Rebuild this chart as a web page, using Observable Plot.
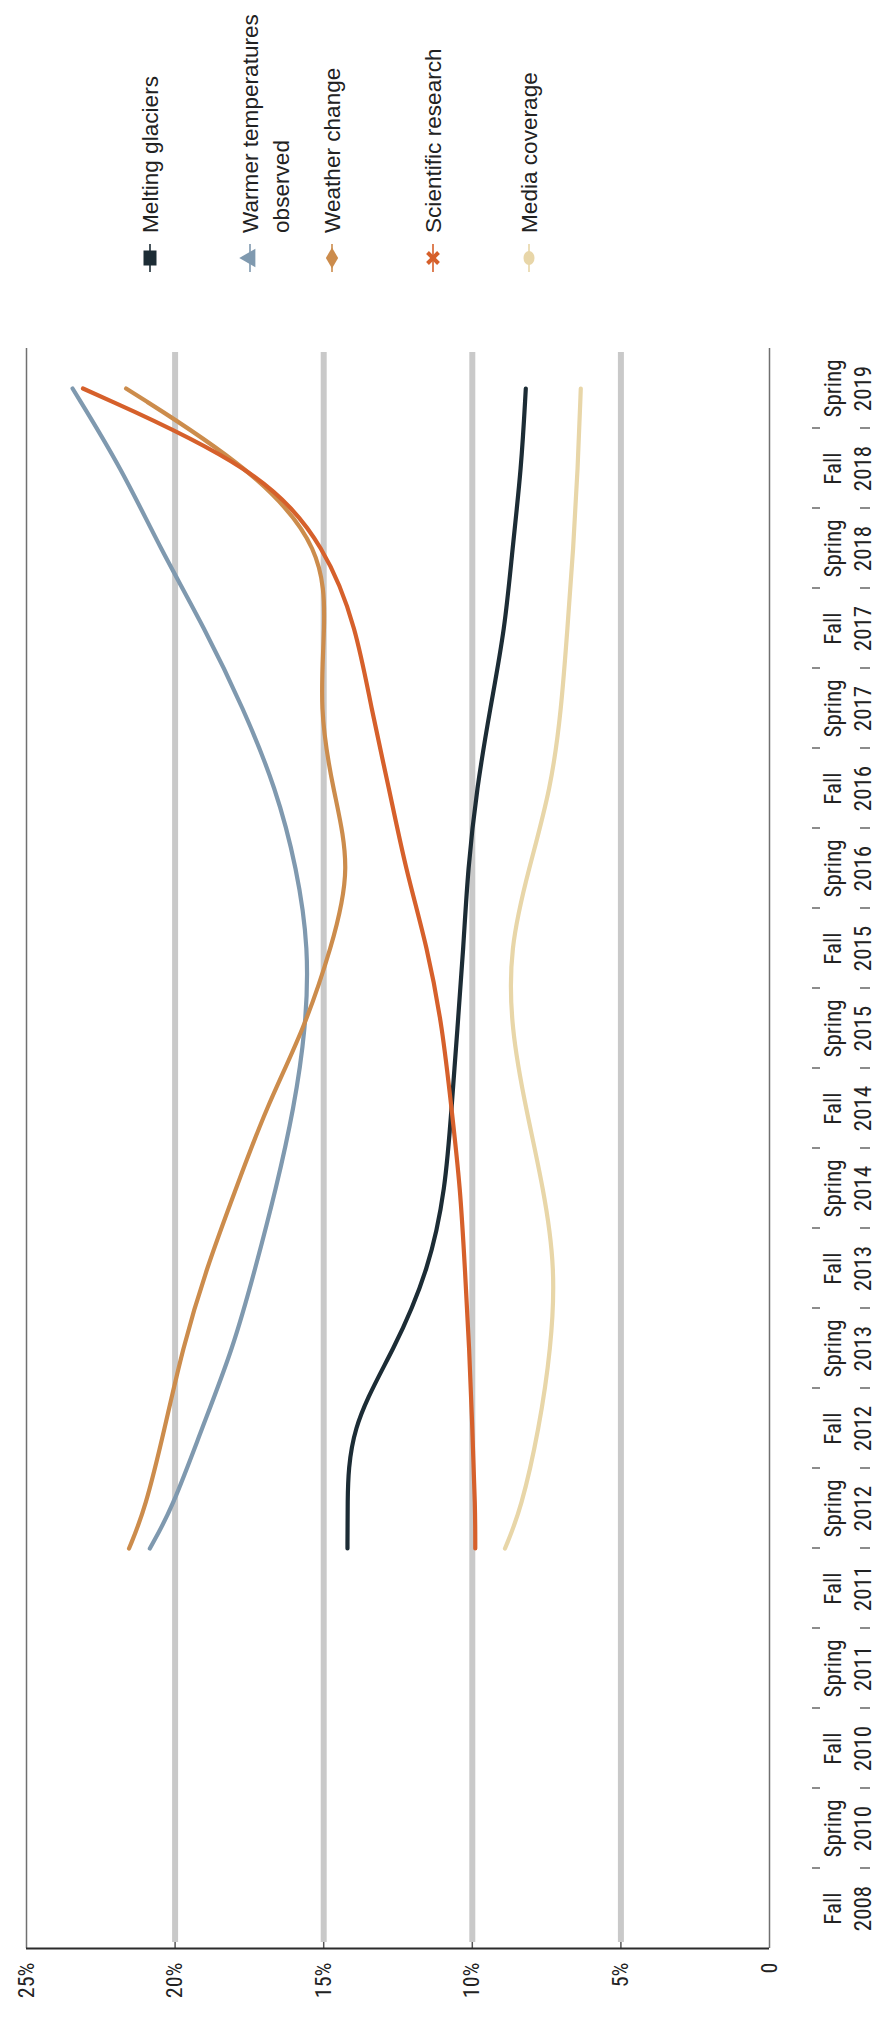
<!DOCTYPE html>
<html>
<head>
<meta charset="utf-8">
<script src="https://cdn.jsdelivr.net/npm/d3@7"></script>
<script src="https://cdn.jsdelivr.net/npm/@observablehq/plot@0.6"></script>
<style>
  html, body { margin: 0; padding: 0; background: #fff; }
  #legend, #chart svg { display: block; }
</style>
</head>
<body>
<svg id="legend" width="882" height="300"></svg>
<div id="chart"></div>
<script>
// ---- data ----
const categories = ["Fall 2008", "Spring 2010", "Fall 2010", "Spring 2011", "Fall 2011", "Spring 2012",
  "Fall 2012", "Spring 2013", "Fall 2013", "Spring 2014", "Fall 2014", "Spring 2015", "Fall 2015",
  "Spring 2016", "Fall 2016", "Spring 2017", "Fall 2017", "Spring 2018", "Fall 2018", "Spring 2019"];
const valueTicks = [0, 5, 10, 15, 20, 25];
const seriesNames = ["Melting glaciers", "Warmer temperatures observed", "Weather change", "Scientific research", "Media coverage"];
const seriesColors = ["#1c2c35", "#7f99af", "#cc8c4c", "#d6602b", "#e8d6a8"];
const seriesSymbols = ["square", "triangle", "diamond", "cross", "circle"];
// position along the category axis (index into categories) of each sampled point
const wave = [4.5, 5, 6, 7, 8, 9, 10, 11, 12, 13, 14, 15, 16, 17, 18, 19];
const meltingGlaciers    = [14.2, 14.2, 14.15, 12.6, 11.45, 10.9, 10.7, 10.5, 10.3, 10.15, 9.85, 9.4, 8.9, 8.65, 8.35, 8.2];
const warmerTemperatures = [20.85, 20.1, 19.1, 18.05, 17.3, 16.6, 16.0, 15.6, 15.5, 15.9, 16.6, 17.7, 19.0, 20.5, 21.8, 23.45];
const weatherChange      = [21.55, 21.0, 20.35, 19.75, 18.95, 17.95, 16.95, 15.65, 14.75, 14.05, 14.7, 15.15, 14.95, 15.0, 17.4, 21.65];
const scientificResearch = [9.9, 9.9, 10.0, 10.1, 10.25, 10.4, 10.7, 11.0, 11.5, 12.25, 12.8, 13.4, 13.9, 14.9, 17.1, 23.1];
const mediaCoverage      = [8.9, 8.35, 7.75, 7.35, 7.2, 7.6, 8.2, 8.7, 8.75, 8.1, 7.35, 7.0, 6.8, 6.6, 6.45, 6.35];
const seriesValues = [meltingGlaciers, warmerTemperatures, weatherChange, scientificResearch, mediaCoverage];

// ---- table built from the arrays ----
const rows = seriesNames.flatMap((name, s) =>
  wave.map((w, i) => ({series: name, wave: w, value: seriesValues[s][i]})));
const drawOrder = ["Media coverage", "Melting glaciers", "Warmer temperatures observed", "Weather change", "Scientific research"];
rows.sort((a, b) => drawOrder.indexOf(a.series) - drawOrder.indexOf(b.series));

const narrow = "'Liberation Sans Narrow', 'Arial Narrow', 'Roboto Condensed', 'DejaVu Sans Condensed', 'Liberation Sans', sans-serif";
const yDomain = [-0.5, categories.length - 0.5];

// separators between category labels (custom render mark using Plot's y scale)
function separators(index, scales, values, dimensions) {
  const g = d3.create("svg:g").attr("stroke", "#8c8c8c").attr("stroke-width", 2);
  const x0 = dimensions.width - dimensions.marginRight;
  for (let k = 1; k < categories.length; k++) {
    const y = scales.y(k - 0.5);
    for (const [a, b] of [[43, 51], [91, 101]]) {
      g.append("line").attr("x1", x0 + a).attr("x2", x0 + b).attr("y1", y).attr("y2", y);
    }
  }
  return g.node();
}

const chart = Plot.plot({
  width: 882,
  height: 1722,
  marginTop: 48,
  marginBottom: 74,
  marginLeft: 26,
  marginRight: 113,
  x: {domain: [0, 25], reverse: true, axis: null},
  y: {domain: yDomain, axis: null},
  color: {domain: seriesNames, range: seriesColors},
  style: {fontFamily: narrow, background: "#fff", color: "#222"},
  marks: [
    Plot.ruleX(valueTicks.filter(v => v > 0 && v < 25), {stroke: "#c9c9c9", strokeWidth: 6, insetTop: 4, insetBottom: 6}),
    Plot.ruleX(valueTicks.filter(v => v > 0 && v < 25), {stroke: "#555", strokeWidth: 1.5, insetTop: 1594}),
    Plot.ruleX([valueTicks[0], valueTicks[valueTicks.length - 1]], {stroke: "#707070", strokeWidth: 1.5}),
    Plot.ruleY([yDomain[0]], {stroke: "#2b2b2b", strokeWidth: 2}),
    Plot.line(rows, {x: "value", y: "wave", z: "series", stroke: "series", strokeWidth: 4.2, curve: "basis"}),
    Plot.text(valueTicks, {
      x: d => d, frameAnchor: "bottom", dy: 14, rotate: -90,
      textAnchor: "end", lineAnchor: "middle",
      text: d => d === 0 ? "0" : d + "%", fontSize: 22, fill: "#222"
    }),
    Plot.text(categories, {
      y: (d, i) => i, frameAnchor: "right", dx: 77, rotate: -90,
      textAnchor: "middle", lineAnchor: "middle", lineHeight: 1.3,
      text: d => d.replace(" ", "\n"), fontSize: 23, fill: "#222"
    }),
    separators
  ]
});
document.getElementById("chart").appendChild(chart);

// ---- legend (above the chart), rotated like the chart ----
const legendLines = {"Warmer temperatures observed": ["Warmer temperatures", "observed"]};
const legendX = [150, 250, 332, 433, 529];
const legend = d3.select("#legend");
seriesNames.forEach((name, s) => {
  const cx = legendX[s], cy = 258, color = seriesColors[s];
  const item = legend.append("g");
  item.append("line").attr("x1", cx).attr("x2", cx).attr("y1", 244).attr("y2", 272)
    .attr("stroke", color).attr("stroke-width", 1.6);
  const sym = seriesSymbols[s];
  if (sym === "cross") {
    const r = 5.5;
    item.append("path").attr("d", `M${cx - r},${cy - r}L${cx + r},${cy + r}M${cx - r},${cy + r}L${cx + r},${cy - r}`)
      .attr("stroke", color).attr("stroke-width", 4);
  } else if (sym === "square") {
    item.append("rect").attr("x", cx - 6.5).attr("y", cy - 7.5).attr("width", 13).attr("height", 15).attr("fill", color);
  } else if (sym === "circle") {
    item.append("ellipse").attr("cx", cx).attr("cy", cy).attr("rx", 5.5).attr("ry", 7).attr("fill", color);
  } else {
    const type = sym === "triangle" ? d3.symbolTriangle : d3.symbolDiamond;
    item.append("path").attr("d", d3.symbol(type, sym === "triangle" ? 150 : 130)())
      .attr("transform", `translate(${cx},${cy}) rotate(${sym === "triangle" ? -90 : 0})`)
      .attr("fill", color);
  }
  const lines = legendLines[name] || [name];
  const t = item.append("text")
    .attr("transform", `translate(${cx},233) rotate(-90)`)
    .attr("font-family", "'Liberation Sans', Arial, sans-serif")
    .attr("font-size", 22.6).attr("fill", "#222");
  lines.forEach((ln, j) => t.append("tspan").attr("x", 0).attr("y", j * 31).attr("dy", "0.35em").text(ln));
});
</script>
</body>
</html>
